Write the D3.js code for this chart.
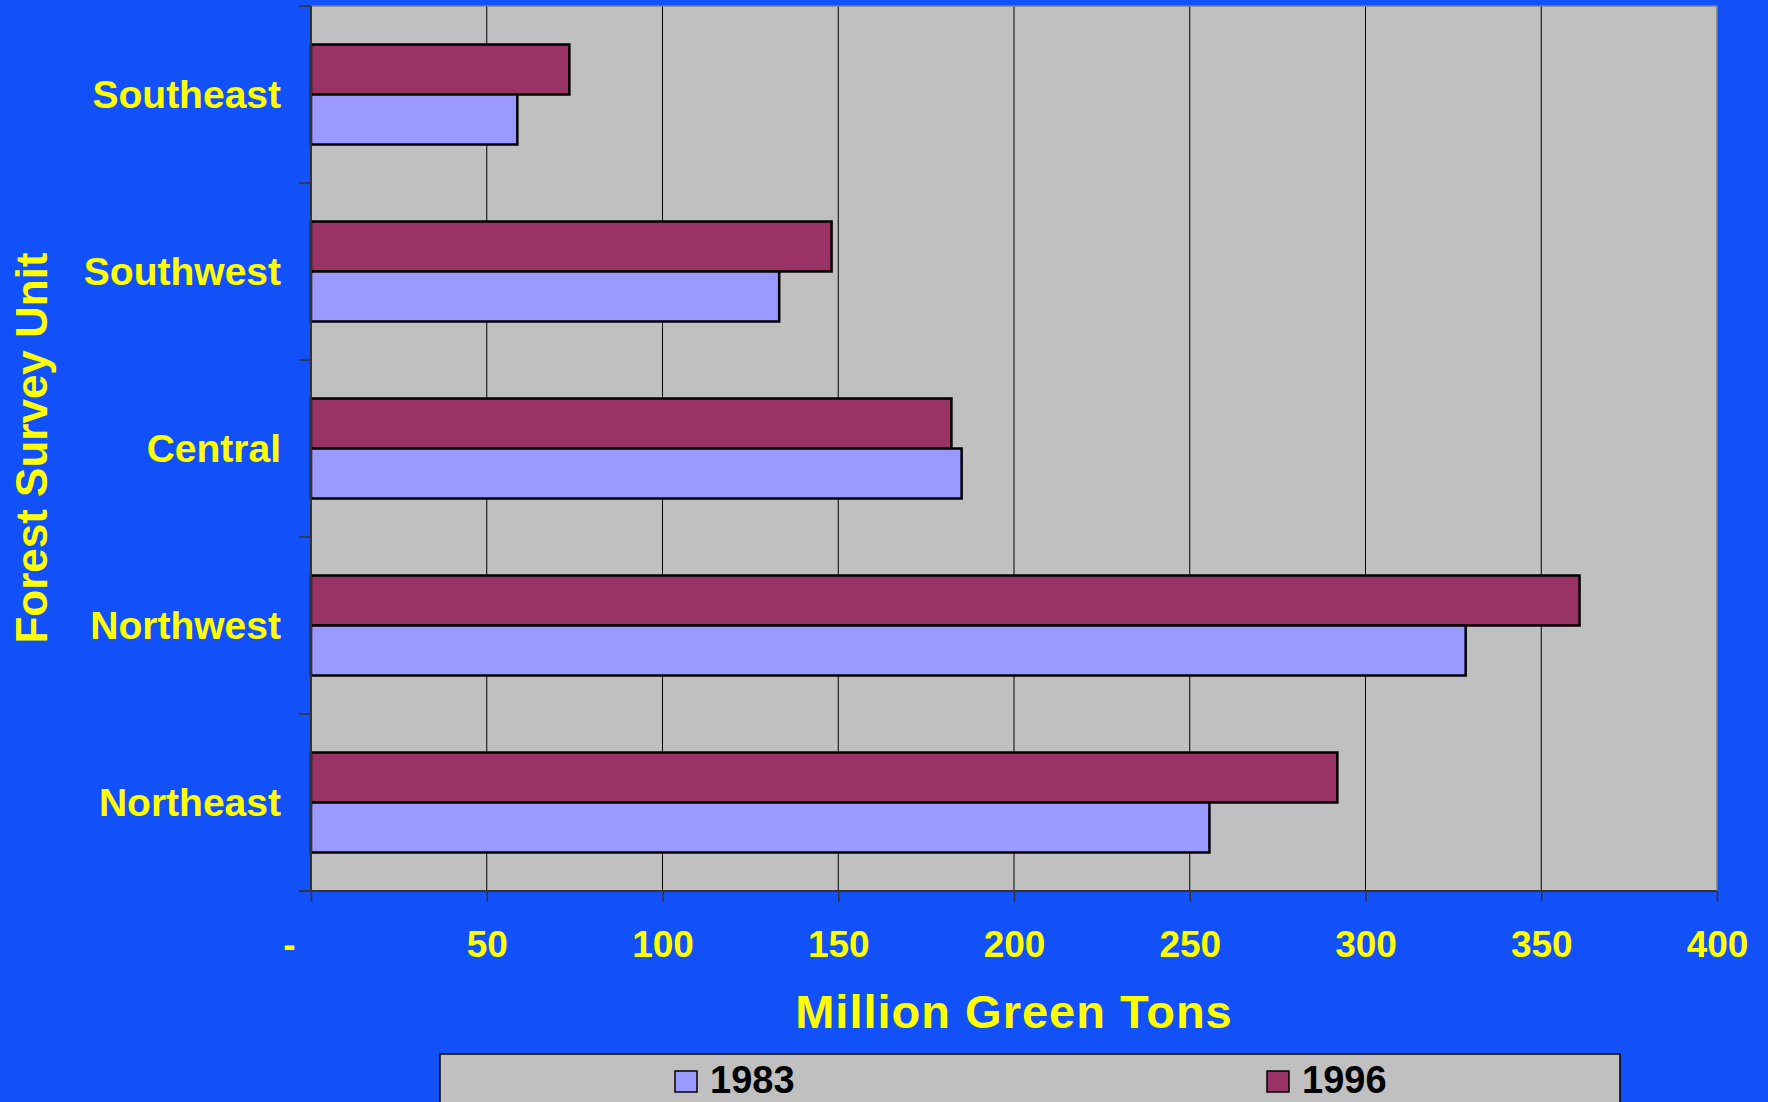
<!DOCTYPE html>
<html>
<head>
<meta charset="utf-8">
<script src="https://cdn.jsdelivr.net/npm/d3@7"></script>
<style>
  html, body { margin: 0; padding: 0; background: #1250f8; }
  svg { display: block; font-family: "Liberation Sans", Arial, sans-serif; font-weight: bold; }
</style>
</head>
<body>
<div id="chart"></div>
<script>
// Chart values
var categories = ['Southeast', 'Southwest', 'Central', 'Northwest', 'Northeast'];
var seriesNames = ['1996', '1983'];
var values1983 = [58.7, 133.2, 185.1, 328.5, 255.6];
var values1996 = [73.5, 148.1, 182.2, 360.9, 292.0];
var xTicks = [0, 50, 100, 150, 200, 250, 300, 350, 400];
var legendOrder = ['1983', '1996'];

var W = 1768, H = 1102;
var margin = {top: 6, right: 51, bottom: 211, left: 311},
	width = W - margin.left - margin.right,
	height = H - margin.top - margin.bottom;

var colors = {'1983': '#9999ff', '1996': '#993366'};
var seriesValues = {'1983': values1983, '1996': values1996};

var svg = d3.select('#chart').append('svg')
	.attr('width', W)
	.attr('height', H);

svg.append('rect')
	.attr('width', W).attr('height', H)
	.attr('fill', '#1250f8');

var g = svg.append('g')
	.attr('transform', 'translate(' + margin.left + ',' + margin.top + ')');

var x = d3.scaleLinear().domain([0, 400]).range([0, width]);

var y = d3.scaleBand()
	.domain(categories)
	.range([0, height])
	.paddingInner(0.435)
	.paddingOuter(0.2175);

var yInner = d3.scaleBand()
	.domain(seriesNames)
	.range([0, y.bandwidth()]);

// plot background
g.append('rect')
	.attr('width', width).attr('height', height)
	.attr('fill', '#c0c0c0');

// gridlines
g.selectAll('line.grid')
	.data(xTicks.filter(function (d) { return d > 0 && d < 400; }))
	.enter().append('line')
	.attr('class', 'grid')
	.attr('x1', function (d) { return x(d); })
	.attr('x2', function (d) { return x(d); })
	.attr('y1', 0).attr('y2', height)
	.attr('stroke', '#000').attr('stroke-width', 1);

// plot border (top, right)
g.append('path')
	.attr('d', 'M0,0H' + width + 'V' + height)
	.attr('fill', 'none')
	.attr('stroke', '#808080').attr('stroke-width', 1.5);

// bars
var rows = categories.map(function (c, i) {
	return {cat: c, values: seriesNames.map(function (s) {
		return {series: s, value: seriesValues[s][i]};
	})};
});

var group = g.selectAll('g.cat')
	.data(rows)
	.enter().append('g')
	.attr('class', 'cat')
	.attr('transform', function (d) { return 'translate(0,' + y(d.cat) + ')'; });

group.selectAll('rect')
	.data(function (d) { return d.values; })
	.enter().append('rect')
	.attr('x', x(0))
	.attr('y', function (d) { return yInner(d.series); })
	.attr('width', function (d) { return x(d.value) - x(0); })
	.attr('height', yInner.bandwidth())
	.attr('fill', function (d) { return colors[d.series]; })
	.attr('stroke', '#000')
	.attr('stroke-width', 2.5);

// x axis
var xAxis = g.append('g')
	.attr('transform', 'translate(0,' + height + ')')
	.call(d3.axisBottom(x)
		.tickValues(xTicks)
		.tickSize(11)
		.tickSizeOuter(0)
		.tickFormat(function (d) { return d === 0 ? '-' : d; }));

xAxis.select('.domain').remove();
xAxis.append('line')
	.attr('x1', -12).attr('x2', width)
	.attr('stroke', '#333').attr('stroke-width', 2);
xAxis.selectAll('.tick line').attr('stroke', '#333').attr('stroke-width', 1.5);
xAxis.selectAll('.tick text')
	.attr('y', 53)
	.attr('dy', '0.35em')
	.attr('dx', function (d) { return d === 0 ? -22 : 0; })
	.attr('fill', '#ffff00')
	.style('font-size', '37px')
	.style('font-weight', 'bold')
	.style('font-family', '"Liberation Sans", Arial, sans-serif');

// y axis: line with ticks at the category boundaries
var yAxis = g.append('g');
yAxis.append('line')
	.attr('y1', 0).attr('y2', height)
	.attr('stroke', '#333').attr('stroke-width', 2);
yAxis.selectAll('line.tick')
	.data(d3.range(categories.length + 1))
	.enter().append('line')
	.attr('class', 'tick')
	.attr('x1', -12).attr('x2', 0)
	.attr('y1', function (i) { return i * y.step(); })
	.attr('y2', function (i) { return i * y.step(); })
	.attr('stroke', '#333').attr('stroke-width', 1.5);

yAxis.selectAll('text')
	.data(categories)
	.enter().append('text')
	.attr('x', -30)
	.attr('y', function (d) { return y(d) + y.bandwidth() / 2; })
	.attr('dy', '0.35em')
	.attr('text-anchor', 'end')
	.attr('fill', '#ffff00')
	.style('font-size', '39px')
	.text(function (d) { return d; });

// axis titles
svg.append('text')
	.attr('x', 1014).attr('y', 1028)
	.attr('text-anchor', 'middle')
	.attr('fill', '#ffff00')
	.style('font-size', '47px')
	.style('letter-spacing', '1px')
	.text('Million Green Tons');

svg.append('text')
	.attr('transform', 'translate(47,448) rotate(-90)')
	.attr('text-anchor', 'middle')
	.attr('fill', '#ffff00')
	.style('font-size', '44px')
	.text('Forest Survey Unit');

// legend
var legend = svg.append('g');
legend.append('rect')
	.attr('x', 440).attr('y', 1054)
	.attr('width', 1180).attr('height', 70)
	.attr('fill', '#c0c0c0')
	.attr('stroke', '#000').attr('stroke-width', 1.5);

var legendX = {'1983': 675, '1996': 1267};
var item = legend.selectAll('g.item')
	.data(legendOrder)
	.enter().append('g')
	.attr('class', 'item')
	.attr('transform', function (d) { return 'translate(' + legendX[d] + ',1071)'; });

item.append('rect')
	.attr('width', 22).attr('height', 21)
	.attr('fill', function (d) { return colors[d]; })
	.attr('stroke', '#000').attr('stroke-width', 1.5);

item.append('text')
	.attr('x', 35).attr('y', 22)
	.attr('fill', '#000')
	.style('font-size', '38px')
	.text(function (d) { return d; });
</script>
</body>
</html>
